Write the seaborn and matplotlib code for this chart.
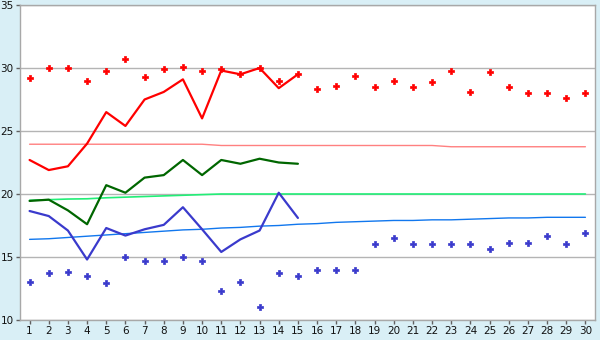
import numpy as np
import pandas as pd
import matplotlib
matplotlib.use("Agg")
import matplotlib.pyplot as plt
import seaborn as sns

days = list(range(1, 31))
days_obs = list(range(1, 16))

max_points = [29.2, 30.0, 30.0, 29.0, 29.8, 30.7, 29.3, 29.9, 30.1, 29.8,
              29.9, 29.5, 30.0, 29.0, 29.5, 28.3, 28.6, 29.4, 28.5, 29.0,
              28.5, 28.9, 29.8, 28.1, 29.7, 28.5, 28.0, 28.0, 27.6, 28.0]
min_points = [13.0, 13.7, 13.8, 13.5, 12.9, 15.0, 14.7, 14.7, 15.0, 14.7,
              12.3, 13.0, 11.0, 13.7, 13.5, 14.0, 14.0, 14.0, 16.0, 16.5,
              16.0, 16.0, 16.0, 16.0, 15.6, 16.1, 16.1, 16.7, 16.0, 16.9]

max_line = [22.7, 21.9, 22.2, 24.0, 26.5, 25.4, 27.5, 28.1, 29.1, 26.0,
            29.8, 29.5, 30.0, 28.4, 29.5]
mean_line = [19.45, 19.55, 18.7, 17.6, 20.7, 20.1, 21.3, 21.5, 22.7, 21.5,
             22.7, 22.4, 22.8, 22.5, 22.4]
min_line = [18.65, 18.25, 17.1, 14.8, 17.3, 16.7, 17.2, 17.55, 18.95, 17.2,
            15.4, 16.4, 17.1, 20.1, 18.1]

normal_max = [23.95] * 10 + [23.85] * 12 + [23.75] * 8
normal_mean = [19.5, 19.55, 19.6, 19.62, 19.7, 19.75, 19.8, 19.85, 19.9, 19.95] + [20.0] * 20
normal_min = [16.4, 16.45, 16.55, 16.65, 16.75, 16.85, 16.95, 17.05, 17.15, 17.2,
              17.3, 17.35, 17.45, 17.5, 17.6, 17.65, 17.75, 17.8, 17.85, 17.9,
              17.9, 17.95, 17.95, 18.0, 18.05, 18.1, 18.1, 18.15, 18.15, 18.15]

y_ticks = [10, 15, 20, 25, 30, 35]

sns.set_theme(style="white")
plt.rcParams['font.family'] = ['DejaVu Sans']

fig = plt.figure(figsize=(6, 3.4), dpi=100)
fig.patch.set_facecolor("#d9eff6")
ax = fig.add_axes([20/600, 1 - 320/340, 575/600, 315/340])
ax.set_facecolor("white")

for y in y_ticks:
    ax.axhline(y, color="#b4b4b4", lw=1.0, zorder=0)

norm_df = pd.DataFrame({"day": days, "nmax": normal_max, "nmean": normal_mean, "nmin": normal_min})
obs_df = pd.DataFrame({"day": days_obs, "max": max_line, "mean": mean_line, "min": min_line})
pts_df = pd.DataFrame({"day": days, "maxp": max_points, "minp": min_points})

sns.lineplot(data=norm_df, x="day", y="nmax", ax=ax, color="#ff8080", lw=1.0, zorder=2)
sns.lineplot(data=norm_df, x="day", y="nmean", ax=ax, color="#22ee77", lw=1.2, zorder=2)
sns.lineplot(data=norm_df, x="day", y="nmin", ax=ax, color="#1177ee", lw=1.0, zorder=2)

sns.lineplot(data=obs_df, x="day", y="max", ax=ax, color="#ff0000", lw=1.6, zorder=3)
sns.lineplot(data=obs_df, x="day", y="mean", ax=ax, color="#006600", lw=1.6, zorder=3)
sns.lineplot(data=obs_df, x="day", y="min", ax=ax, color="#3a3acc", lw=1.6, zorder=3)

sns.scatterplot(data=pts_df, x="day", y="maxp", ax=ax, color="#ff0000", marker="P",
                s=13, linewidth=0.5, edgecolor="#ff0000", zorder=4)
sns.scatterplot(data=pts_df, x="day", y="minp", ax=ax, color="#3a3acc", marker="P",
                s=13, linewidth=0.5, edgecolor="#3a3acc", zorder=4)

ax.set_xlim(0.5, 30.5)
ax.set_ylim(10, 35)
ax.set_xticks(days)
ax.set_xticklabels([str(d) for d in days])
ax.set_yticks(y_ticks)
ax.set_xlabel("")
ax.set_ylabel("")
for side in ["left", "bottom", "right", "top"]:
    ax.spines[side].set_color("#a8a8a8")
    ax.spines[side].set_linewidth(1.0)
    ax.spines[side].set_visible(True)
ax.tick_params(axis="both", which="both", length=3, width=1, color="#606060",
               labelsize=7.5, labelcolor="#111111", pad=1.5)
ax.tick_params(axis="x", bottom=True, direction="out")
ax.tick_params(axis="y", left=True, direction="out")

fig.savefig("out.png", dpi=100, facecolor=fig.get_facecolor())
